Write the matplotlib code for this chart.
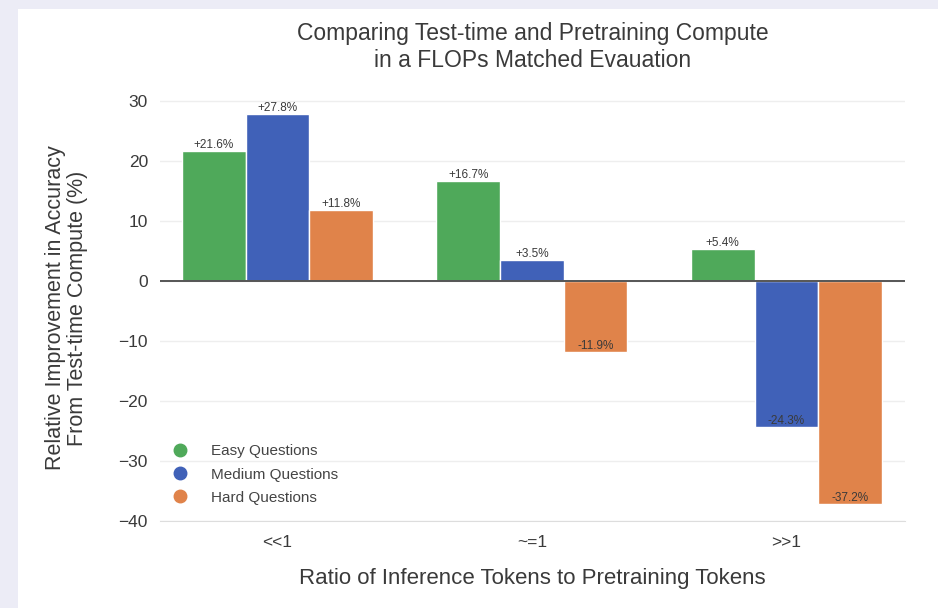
import matplotlib.pyplot as plt
import numpy as np
from matplotlib.patches import Rectangle

plt.rcParams['font.family'] = ['Liberation Sans', 'DejaVu Sans']

groups = ['<<1', '~=1', '>>1']
easy = [21.6, 16.7, 5.4]
medium = [27.8, 3.5, -24.3]
hard = [11.8, -11.9, -37.2]
series = ['Easy Questions', 'Medium Questions', 'Hard Questions']
colors = ['#4fa95a', '#4061b8', '#e0834a']

fig = plt.figure(figsize=(9.38, 6.08), dpi=100, facecolor='#ececf6')
# white screenshot area inside the lavender frame
fig.add_artist(Rectangle((18 / 938, 0), 1, 1 - 9 / 608, transform=fig.transFigure,
                         facecolor='white', edgecolor='none', zorder=-1))
ax = fig.add_axes([0.171, 0.143, 0.794, 0.701])
ax.set_facecolor('white')

x = np.arange(len(groups))
w = 0.25
for i, (vals, name, c) in enumerate(zip([easy, medium, hard], series, colors)):
    pos = x + (i - 1) * w
    ax.bar(pos, vals, w, color=c, edgecolor='white', linewidth=1, label=name, zorder=3)
    for p, v in zip(pos, vals):
        ax.text(p, v, f'{v:+.1f}%', ha='center', va='bottom', fontsize=8.5,
                color='#3a3a3a', zorder=4)

ax.axhline(0, color='#555555', linewidth=1.4, zorder=4)
ax.set_xlim(-0.46, 2.467)
ax.set_ylim(-40, 31)
ax.set_yticks(range(-40, 31, 10))
ax.set_xticks(x)
ax.set_xticklabels(groups)
ax.grid(axis='y', color='#eeeeee', linewidth=1, zorder=0)
for s in ['top', 'right', 'left']:
    ax.spines[s].set_visible(False)
ax.spines['bottom'].set_color('#dddddd')
ax.tick_params(length=0, labelsize=12.5, colors='#3a3a3a')
ax.tick_params(axis='y', pad=9)
ax.tick_params(axis='x', pad=10)

ax.set_title('Comparing Test-time and Pretraining Compute\nin a FLOPs Matched Evauation',
             fontsize=16.5, color='#3a3a3a', pad=20, linespacing=1.25)
ax.set_xlabel('Ratio of Inference Tokens to Pretraining Tokens', fontsize=16,
              color='#3a3a3a', labelpad=13)
ax.set_ylabel('Relative Improvement in Accuracy\nFrom Test-time Compute (%)', fontsize=15.5,
              color='#3a3a3a', labelpad=22, linespacing=1.05)

handles = [plt.Line2D([], [], marker='o', linestyle='none', color=c, markersize=9) for c in colors]
ax.legend(handles, series, loc='lower left', frameon=False, fontsize=11,
          labelcolor='#444444', bbox_to_anchor=(-0.012, 0.006), handletextpad=1.0,
          labelspacing=0.6)

fig.savefig('out.png', dpi=100, facecolor=fig.get_facecolor())
